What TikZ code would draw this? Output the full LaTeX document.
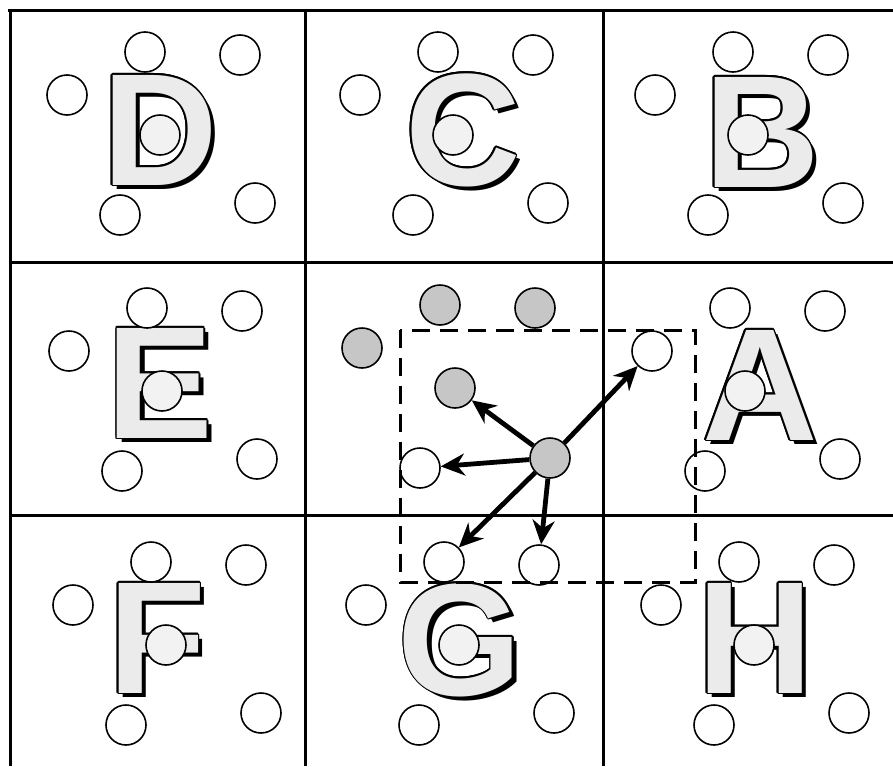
\documentclass[tikz,border=0pt]{standalone}
\usepackage{fontspec}
\setmainfont{Liberation Sans}
\usetikzlibrary{arrows.meta}

\tikzset{
  spot/.style={circle,draw,line width=0.8pt,minimum size=20pt,inner sep=0pt,fill=white},
  hot/.style={spot,fill=gray!45},
  glyph/.style={inner sep=0pt,font=\fontsize{80}{80}\selectfont\bfseries},
  push/.style={->,line width=2.4pt},
  cellline/.style={line width=1.5pt},
}

\begin{document}
\begin{tikzpicture}[>={Stealth[length=12pt,width=11pt]},x=0.5pt,y=-0.5pt]
  \useasboundingbox (0,0) rectangle (893,766);
  % letters: shadow, outline, fill
  \foreach \lx/\ly/\lt in {160/130/D,463/130/C,762/132/B,160/383/E,760/385/A,157/638/F,460/640/G,755/638/H}{
    \node[glyph,text=black,xshift=2.2pt,yshift=-2.2pt] at (\lx,\ly) {\lt};
    \foreach \a in {0,30,...,330}
      \node[glyph,text=black] at ([shift={(\a:0.75pt)}]\lx,\ly) {\lt};
    \node[glyph,text=gray!16] (L-\lt) at (\lx,\ly) {\lt};
  }
  % grid
  \draw[cellline] (8,10) -- (893,10);
  \draw[cellline] (10,10) -- (10,766);
  \draw[cellline] (10,262) -- (893,262);
  \draw[cellline] (10,515) -- (893,515);
  \draw[cellline] (305,10) -- (305,766);
  \draw[cellline] (603,10) -- (603,766);
  % six spots per cell
  \foreach \cx/\cy/\lt in {0/0/D,293/0/C,588/0/B,2/256/E,585/256/A,6/510/F,299/510/G,594/510/H}{
    \begin{scope}[shift={(\cx,\cy)}]
      \node[spot] (\lt-1) at (145,52) {};
      \node[spot] (\lt-2) at (240,55) {};
      \node[spot] (\lt-3) at (67,95) {};
      \node[spot,fill=gray!10] (\lt-4) at (160,135) {};
      \node[spot] (\lt-5) at (120,215) {};
      \node[spot] (\lt-6) at (255,203) {};
    \end{scope}
  }
  % middle cell
  \begin{scope}[shift={(295,253)}]
    \node[hot] (m-1) at (145,52) {};
    \node[hot] (m-2) at (240,55) {};
    \node[hot] (m-3) at (67,95) {};
    \node[hot] (m-4) at (160,135) {};
    \node[spot] (m-5) at (125,215) {};
    \node[hot] (m-6) at (255,205) {};
  \end{scope}
  \draw[line width=1.5pt,dash pattern=on 9pt off 5pt] (400,330) rectangle (695,582);
  \draw[push] (m-6) -- (m-4);
  \draw[push] (m-6) -- (m-5);
  \draw[push] (m-6) -- (A-3);
  \draw[push] (m-6) -- (G-1);
  \draw[push] (m-6) -- (G-2);
\end{tikzpicture}
\end{document}
